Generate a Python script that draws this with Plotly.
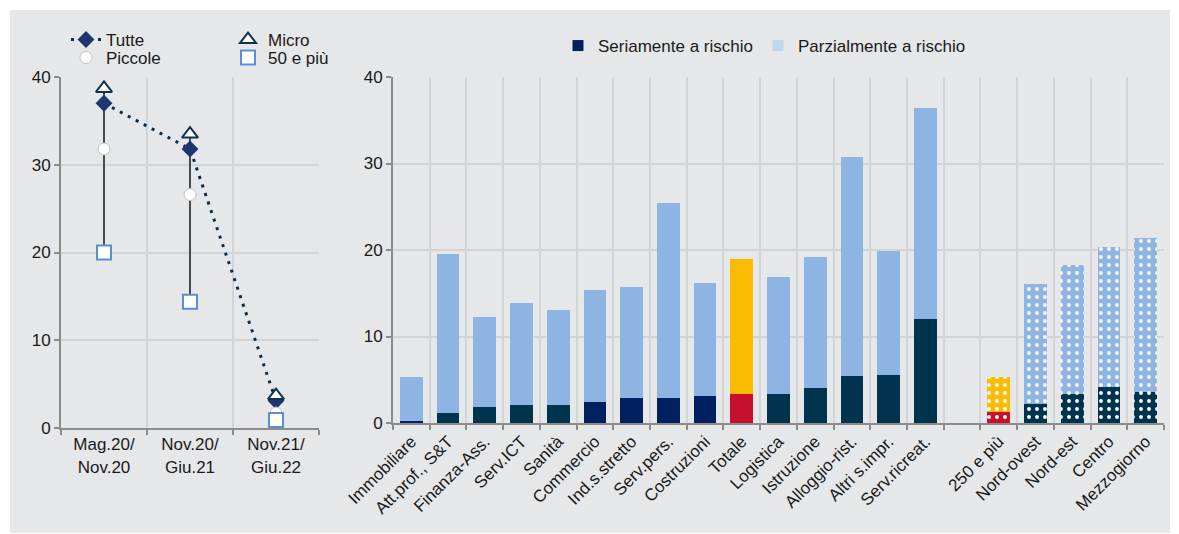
import plotly.graph_objects as go

# la pagina ha un margine di 8px: la figura occupa quindi 1171x526
OFF = 8
W, H = 1179 - OFF, 534 - OFF
FONT = "Liberation Sans, Arial, sans-serif"


def px(x):
    return (x - OFF) / W


def py(y):
    return 1 - (y - OFF) / H


# --- pannello sinistro: quote di imprese per classe dimensionale ---
periodi = ["Mag.20/<br>Nov.20", "Nov.20/<br>Giu.21", "Nov.21/<br>Giu.22"]
tutte = [37.0, 31.8, 3.1]
micro = [38.7, 33.5, 3.7]
piccole = [31.8, 26.6, 1.7]
grandi = [20.0, 14.4, 0.9]

# --- pannello destro: settori, totale, classe 250+ e aree ---
categorie = ["Immobiliare", "Att.prof., S&T", "Finanza-Ass.", "Serv.ICT", "Sanità",
             "Commercio", "Ind.s.stretto", "Serv.pers.", "Costruzioni", "Totale",
             "Logistica", "Istruzione", "Alloggio-rist.", "Altri s.impr.", "Serv.ricreat.",
             " ", "250 e più", "Nord-ovest", "Nord-est", "Centro", "Mezzogiorno"]
seriamente = [0.2, 1.2, 1.9, 2.1, 2.1, 2.4, 2.9, 2.9, 3.1, 3.3,
              3.4, 4.1, 5.4, 5.6, 12.0, None, 1.3, 2.2, 3.3, 4.2, 3.6]
parzialmente = [5.1, 18.3, 10.4, 11.8, 11.0, 13.0, 12.8, 22.5, 13.1, 15.7,
                13.5, 15.1, 25.3, 14.3, 24.4, None, 4.0, 13.9, 15.0, 16.2, 17.8]

NAVY, TEAL, LIGHT = "#002060", "#00334e", "#8db4e2"
RED, YELLOW = "#c8102e", "#fbbb00"
col_ser = [NAVY, TEAL, TEAL, TEAL, TEAL, NAVY, NAVY, NAVY, NAVY, RED,
           TEAL, TEAL, TEAL, TEAL, TEAL, TEAL, RED, TEAL, TEAL, TEAL, TEAL]
col_par = [LIGHT] * 9 + [YELLOW] + [LIGHT] * 6 + [YELLOW] + [LIGHT] * 4
motivo = [""] * 16 + ["."] * 5

fig = go.Figure()

# linee verticali min-max
vx, vy = [], []
for i, p in enumerate(periodi):
    vals = [tutte[i], micro[i], piccole[i], grandi[i]]
    vx += [p, p, None]
    vy += [max(vals), min(vals), None]
fig.add_trace(go.Scatter(x=vx, y=vy, mode="lines", line=dict(color="#4a4a4a", width=2),
                         showlegend=False, hoverinfo="skip"))

fig.add_trace(go.Scatter(
    x=periodi, y=tutte, name="Tutte", mode="lines+markers", legend="legend",
    line=dict(color="#0b2f4a", width=3, dash="3px,6px"),
    marker=dict(symbol="diamond", size=13, color="#1c3770")))
fig.add_trace(go.Scatter(
    x=periodi, y=piccole, name="Piccole", mode="markers", legend="legend4",
    marker=dict(symbol="circle", size=12, color="white", line=dict(color="#b9c3d3", width=1))))
fig.add_trace(go.Scatter(
    x=periodi, y=grandi, name="50 e più", mode="markers", legend="legend5",
    marker=dict(symbol="square", size=14, color="white", line=dict(color="#5b8fd4", width=2))))
fig.add_trace(go.Scatter(
    x=periodi, y=micro, name="Micro", mode="markers", legend="legend2",
    marker=dict(symbol="triangle-up", size=14, color="white", line=dict(color="#0d3350", width=2))))

# barre impilate: una traccia per ogni combinazione colore/motivo
for serie, cols in [(seriamente, col_ser), (parzialmente, col_par)]:
    combo = []
    for c, m in zip(cols, motivo):
        if (c, m) not in combo:
            combo.append((c, m))
    for c, m in combo:
        y = [v if (cols[i] == c and motivo[i] == m) else None for i, v in enumerate(serie)]
        fig.add_trace(go.Bar(
            x=categorie, y=y, xaxis="x2", yaxis="y2", showlegend=False,
            marker=dict(color=c, line_width=0,
                        pattern=dict(shape=m, fillmode="replace", bgcolor=c, fgcolor="white",
                                     fgopacity=1, size=8, solidity=0.18))))

# voci di legenda
for nome, c in [("Seriamente a rischio", NAVY), ("Parzialmente a rischio", "#bdd7ee")]:
    fig.add_trace(go.Scatter(x=[None], y=[None], xaxis="x2", yaxis="y2", name=nome,
                             mode="markers", legend="legend3",
                             marker=dict(symbol="square", size=11, color=c)))

asse = dict(showline=True, linecolor="#8c8c8c", linewidth=2, ticks="outside",
            tickcolor="#8c8c8c", ticklen=5, tickwidth=2, showgrid=True,
            gridcolor="#d3d4d6", gridwidth=2, zeroline=False, automargin=False,
            tickfont=dict(size=17, color="#1a1a1a"))
leg = dict(bgcolor="rgba(0,0,0,0)", font=dict(size=17), traceorder="normal",
           xanchor="left", yanchor="middle")

fig.update_layout(
    width=W, height=H, autosize=False,
    margin=dict(l=0, r=0, t=0, b=0, autoexpand=False),
    paper_bgcolor="white", plot_bgcolor="rgba(0,0,0,0)",
    font=dict(family=FONT, size=17, color="#1a1a1a"),
    barmode="stack", bargap=0.38,
    xaxis=dict(asse, type="category", tickson="boundaries", range=[-0.5, 2.5],
               domain=[px(61), px(319)], anchor="y"),
    yaxis=dict(asse, range=[0, 40], dtick=10,
               domain=[py(428), py(77)], anchor="x"),
    xaxis2=dict(asse, type="category", tickson="boundaries", tickangle=-45,
                range=[-0.5, 20.5], domain=[px(393), px(1164)], anchor="y2"),
    yaxis2=dict(asse, range=[0, 40], dtick=10,
                domain=[py(423), py(77)], anchor="x2"),
    legend=dict(leg, x=px(66), y=py(40)),
    legend4=dict(leg, x=px(66), y=py(58)),
    legend2=dict(leg, x=px(228), y=py(40)),
    legend5=dict(leg, x=px(228), y=py(58)),
    legend3=dict(leg, x=px(558), y=py(46), orientation="h"),
    shapes=[dict(type="rect", xref="paper", yref="paper", layer="below",
                 x0=px(10), x1=px(1170), y0=py(533), y1=py(10),
                 fillcolor="#e6e7e9", line_width=0)],
)

fig.write_html("out.html")
